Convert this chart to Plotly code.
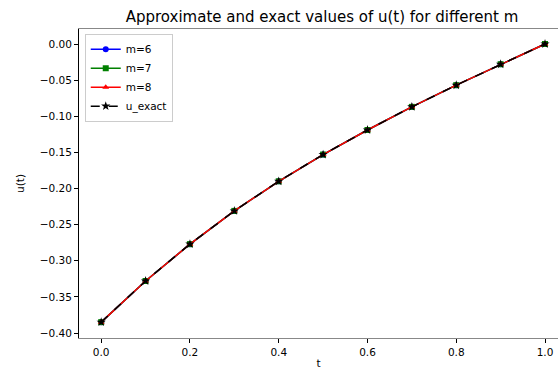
import plotly.graph_objects as go

# Sample times and solution values
t = [0.0, 0.1, 0.2, 0.3, 0.4, 0.5, 0.6, 0.7, 0.8, 0.9, 1.0]
u_m6 = [-0.385, -0.328, -0.277, -0.231, -0.190, -0.153, -0.119, -0.087, -0.057, -0.028, 0.0]
u_m7 = [-0.385, -0.328, -0.277, -0.231, -0.190, -0.153, -0.119, -0.087, -0.057, -0.028, 0.0]
u_m8 = [-0.385, -0.328, -0.277, -0.231, -0.190, -0.153, -0.119, -0.087, -0.057, -0.028, 0.0]
u_exact = [-0.385, -0.328, -0.277, -0.231, -0.190, -0.153, -0.119, -0.087, -0.057, -0.028, 0.0]

x_ticks = [0.0, 0.2, 0.4, 0.6, 0.8, 1.0]
y_ticks = [0.0, -0.05, -0.10, -0.15, -0.20, -0.25, -0.30, -0.35, -0.40]

font = "DejaVu Sans, Liberation Sans, sans-serif"

fig = go.Figure()
series = [
    ("m=6", u_m6, "#0000ff", "circle", "solid", 6),
    ("m=7", u_m7, "#008000", "square", "solid", 6),
    ("m=8", u_m8, "#ff0000", "triangle-up", "solid", 6),
    ("u_exact", u_exact, "#000000", "star", "dash", 7),
]
for name, vals, color, sym, dash, size in series:
    fig.add_trace(go.Scatter(
        x=t, y=vals, name=name, mode="lines+markers",
        line=dict(color=color, width=1.5, dash=dash),
        marker=dict(symbol=sym, size=size, color=color, line=dict(width=0)),
    ))

fig.update_layout(
    width=558, height=369,
    margin=dict(l=79, r=0, t=29, b=31),
    paper_bgcolor="white", plot_bgcolor="white",
    font=dict(family=font, size=10.5, color="#000000"),
    title=dict(text="Approximate and exact values of u(t) for different m",
               x=322 / 558, xanchor="center", y=1 - 17 / 369, yanchor="middle",
               font=dict(size=15)),
    showlegend=True,
    legend=dict(x=0.012, y=0.985, xanchor="left", yanchor="top",
                bgcolor="rgba(255,255,255,0.8)", bordercolor="#cccccc", borderwidth=1,
                font=dict(size=10.5), tracegroupgap=0, itemwidth=30),
)
fig.update_xaxes(
    range=[-0.05, (558 - 101) / 444], tickvals=x_ticks, tickformat=".1f",
    ticks="outside", ticklen=4, tickcolor="#000000", showgrid=False, zeroline=False,
    showline=True, linecolor="#888888", linewidth=1, mirror=True, automargin=False,
    tickfont=dict(size=10.5),
    title=dict(text="t", standoff=9, font=dict(size=10.5, color="#000000")),
)
fig.update_yaxes(
    range=[-0.40 - 5 / 722.5, 15 / 722.5], tickvals=y_ticks, tickformat=".2f",
    ticks="outside", ticklen=4, tickcolor="#000000", showgrid=False, zeroline=False,
    showline=True, linecolor="#000000", linewidth=1, automargin=False,
    tickfont=dict(size=10.5),
    title=dict(text="u(t)", standoff=13, font=dict(size=10.5, color="#000000")),
)

fig.write_html("out.html")
